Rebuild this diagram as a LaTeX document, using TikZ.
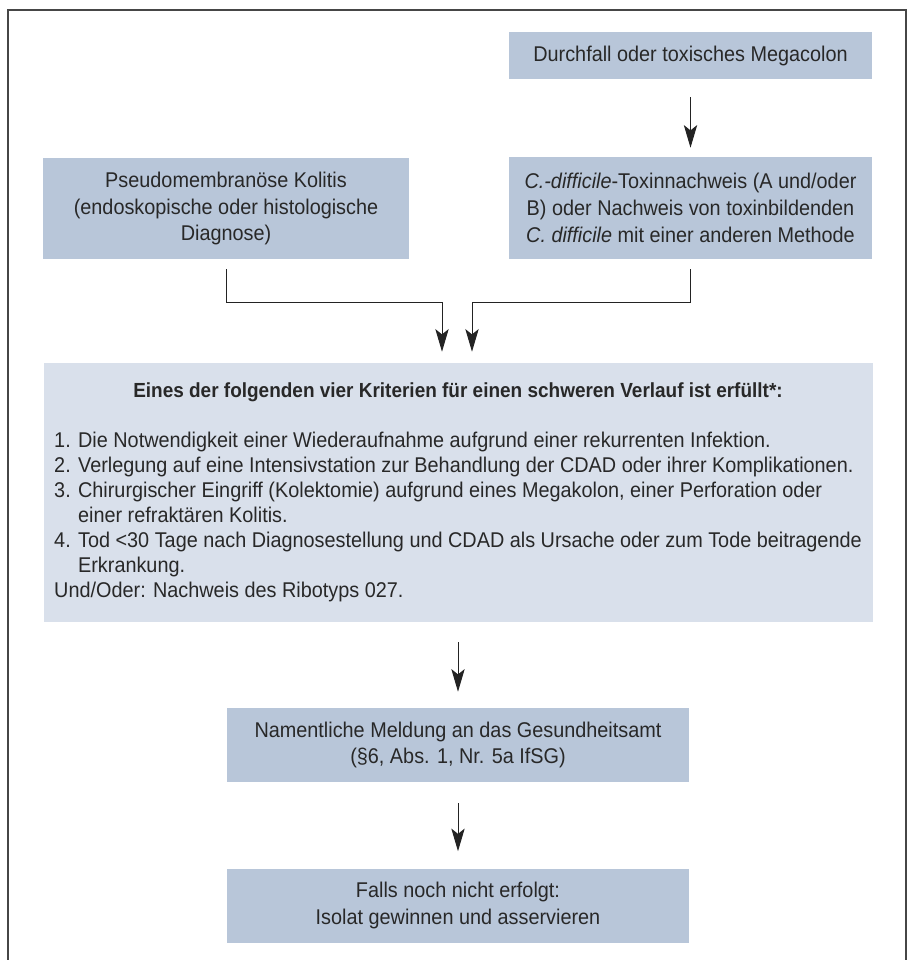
\documentclass[tikz,border=0pt]{standalone}
\usepackage{fontspec}
\setmainfont{Liberation Sans}[FakeStretch=0.93]
\usepackage{tikz}
\usetikzlibrary{arrows.meta, positioning, calc}
\definecolor{mytext}{RGB}{40,40,40}
\definecolor{myline}{RGB}{35,35,35}
\definecolor{myframe}{RGB}{70,70,70}
\definecolor{hdrblue}{RGB}{184,198,217}
\definecolor{hdrpale}{RGB}{217,224,235}
\tikzset{
  box/.style={rectangle, fill=hdrblue, text=mytext, align=center,
    inner sep=0pt, font=\fontsize{16}{20}\selectfont},
  critbox/.style={rectangle, fill=hdrpale, text=mytext,
    inner sep=0pt, font=\fontsize{16}{18.75}\selectfont},
  arrow/.style={-{Stealth[length=17pt, width=10pt, inset=4pt]},
    line width=0.75pt, color=myline},
  frame/.style={line width=1.5pt, color=myframe}
}

\begin{document}
\begin{tikzpicture}[x=0.75pt, y=-0.75pt]
  \useasboundingbox (0,0) rectangle (909,960);
  % outer frame
  \draw[frame] (8,960) -- (8,10) -- (906,10) -- (906,960);
  % top row
  \node[box, minimum width=272.25pt, minimum height=35.25pt] (durch) at (690.5,55.5)
    {Durchfall oder toxisches Megacolon};
  \node[box, minimum width=272.25pt, minimum height=76.5pt] (cdiff) at (690.5,208)
    {\textit{C.-difficile}-Toxinnachweis (A und/oder\\
     B) oder Nachweis von toxinbildenden\\
     \textit{C. difficile} mit einer anderen Methode};
  \node[box, minimum width=274.5pt, minimum height=75.75pt] (pseudo) at (226,208.5)
    {Pseudomembranöse Kolitis\\
     (endoskopische oder histologische\\
     Diagnose)};
  % criteria
  \node[critbox, minimum width=621.75pt, minimum height=194.25pt] (crit) at (458,492.5)
    {\begin{tabular}{@{}l@{}}
     \multicolumn{1}{@{}c@{}}{\fontsize{15.3}{18.75}\selectfont\bfseries Eines der folgenden vier Kriterien für einen schweren Verlauf ist erfüllt*:}\\[18.75pt]
     1. Die Notwendigkeit einer Wiederaufnahme aufgrund einer rekurrenten Infektion.\\
     2. Verlegung auf eine Intensivstation zur Behandlung der CDAD oder ihrer Komplikationen.\\
     3. Chirurgischer Eingriff (Kolektomie) aufgrund eines Megakolon, einer Perforation oder\\
     \phantom{3. }einer refraktären Kolitis.\\
     4. Tod <30 Tage nach Diagnosestellung und CDAD als Ursache oder zum Tode beitragende\\
     \phantom{4. }Erkrankung.\\
     Und/Oder: Nachweis des Ribotyps 027.
     \end{tabular}};
  % reporting
  \node[box, minimum width=346.5pt, minimum height=55.5pt] (meld) at (458,745)
    {Namentliche Meldung an das Gesundheitsamt\\
     (§6, Abs. 1, Nr. 5a IfSG)};
  \node[box, minimum width=346.5pt, minimum height=55.5pt] (falls) at (458,905.5)
    {Falls noch nicht erfolgt:\\
     Isolat gewinnen und asservieren};
  % connectors
  \coordinate (jl) at ($(pseudo.south)+(0,43)$);
  \coordinate (jr) at ($(cdiff.south)+(0,43)$);
  \draw[arrow, shorten <=13.5pt, shorten >=6.75pt] (durch) -- (cdiff);
  \draw[arrow, shorten <=7.5pt, shorten >=8.25pt] (pseudo.south) -- (jl) -| ([xshift=-12pt]crit.north);
  \draw[arrow, shorten <=7.5pt, shorten >=8.25pt] (cdiff.south) -- (jr) -| ([xshift=10.5pt]crit.north);
  \draw[arrow, shorten <=15pt, shorten >=12pt] (crit) -- (meld);
  \draw[arrow, shorten <=15.75pt, shorten >=12.75pt] (meld) -- (falls);
\end{tikzpicture}
\end{document}
